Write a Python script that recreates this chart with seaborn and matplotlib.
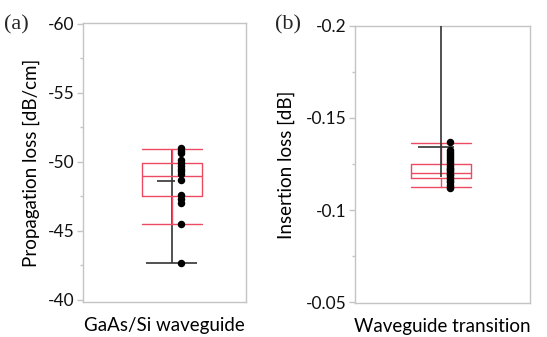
import numpy as np
import pandas as pd
import matplotlib
matplotlib.use("Agg")
import matplotlib.pyplot as plt
import seaborn as sns

# (a) propagation loss of GaAs/Si waveguides [dB/cm]
prop_loss = [-51.0, -50.8, -50.6, -50.1, -49.9, -49.7, -49.5, -49.3, -49.1,
             -48.7, -47.6, -47.3, -47.0, -45.5, -42.7]
prop_quart = [-47.5, -49.0, -49.9]      # q1, median, q3
prop_whisk = [-45.5, -50.9]             # red caps
prop_range = [-50.9, -42.7]             # black line
prop_mean = -48.6

# (b) insertion loss of waveguide transitions [dB]
ins_loss = [-0.137, -0.1325, -0.1315, -0.1305, -0.1295, -0.128, -0.127, -0.126,
            -0.1248, -0.124, -0.123, -0.1222, -0.1215, -0.1205, -0.1198, -0.119,
            -0.118, -0.117, -0.116, -0.115, -0.1138, -0.1125, -0.1117]
ins_quart = [-0.1175, -0.1202, -0.1249]
ins_whisk = [-0.1126, -0.1362]
ins_range = [-0.21, -0.118]
ins_mean = -0.1344

RED = "#EC4B61"
GRID = "#C4C4C4"
sns.set_style("white")
plt.rcParams['font.family'] = ['Lato', 'DejaVu Sans']

fig = plt.figure(figsize=(5.47, 3.37), dpi=100)
ax_a = fig.add_axes([0.152, 0.104, 0.298, 0.828])
ax_b = fig.add_axes([0.649, 0.101, 0.320, 0.822])


def draw_panel(ax, vals, quart, whisk, rng, mean, name, xlim, box_x, box_w,
               cap_lo, cap_hi, mean_lo, mean_hi, red_on_top):
    df = pd.DataFrame({"cat": name, "val": vals})
    # black range line + mean tick
    zb = 3 if red_on_top else 5
    ax.vlines(box_x, rng[0], rng[1], color="#333333", lw=1.2, zorder=zb)
    if cap_lo is not None:
        ax.hlines(rng[1], box_x + cap_lo, box_x + cap_hi, color="#333333",
                  lw=1.2, zorder=zb)
    ax.hlines(mean, box_x + mean_lo, box_x + mean_hi, color="#333333",
              lw=1.2, zorder=zb)
    stats = [dict(q1=quart[0], med=quart[1], q3=quart[2],
                  whislo=whisk[0], whishi=whisk[1], fliers=[])]
    style = dict(color=RED, lw=1.0)
    ax.bxp(stats, positions=[box_x], widths=box_w, capwidths=box_w,
           showfliers=False, boxprops=style, whiskerprops=style,
           capprops=style, medianprops=style, manage_ticks=False,
           zorder=4)
    sns.stripplot(data=df, x="cat", y="val", jitter=False, color="black",
                  size=5.4, ax=ax, zorder=6)
    ax.set_xlim(*xlim)
    ax.set_xlabel(name, fontsize=13.5, labelpad=7, color="#000000")
    ax.set_xticks([0])
    ax.set_xticklabels([""])
    for s in ax.spines.values():
        s.set_color(GRID)
        s.set_linewidth(1.0)
    ax.tick_params(axis="x", length=2, color=GRID, direction="in")
    ax.tick_params(axis="y", which="major", length=4, width=1, color=GRID,
                   labelsize=12.5, labelcolor="#111111", pad=2, left=True)
    ax.tick_params(axis="y", which="minor", length=2, width=1, color=GRID,
                   left=True)


draw_panel(ax_a, prop_loss, prop_quart, prop_whisk, prop_range, prop_mean,
           "GaAs/Si waveguide", (-0.6, 0.4), -0.054, 0.37,
           -0.16, 0.15, -0.09, 0.02, True)
ax_a.set_ylim(-39.85, -60.05)
ax_a.set_yticks([-60, -55, -50, -45, -40])
ax_a.set_yticks([-57.5, -52.5, -47.5, -42.5], minor=True)
ax_a.set_yticklabels(["-60", "-55", "-50", "-45", "-40"])
ax_a.set_ylabel("Propagation loss [dB/cm]", fontsize=13.5, labelpad=6,
                color="#000000")

draw_panel(ax_b, ins_loss, ins_quart, ins_whisk, ins_range, ins_mean,
           "Waveguide transition", (-0.54, 0.46), -0.047, 0.343,
           None, None, -0.135, 0.07, False)
ax_b.set_ylim(-0.0495, -0.2)
ax_b.set_yticks([-0.2, -0.15, -0.1, -0.05])
ax_b.set_yticks([-0.175, -0.125, -0.075], minor=True)
ax_b.set_yticklabels(["-0.2", "-0.15", "-0.1", "-0.05"])
ax_b.set_ylabel("Insertion loss [dB]", fontsize=13.5, labelpad=8,
                color="#000000")

fig.text(0.008, 0.912, "(a)", family="Liberation Serif", fontsize=16)
fig.text(0.503, 0.912, "(b)", family="Liberation Serif", fontsize=16)

fig.savefig("out.png", dpi=100)
